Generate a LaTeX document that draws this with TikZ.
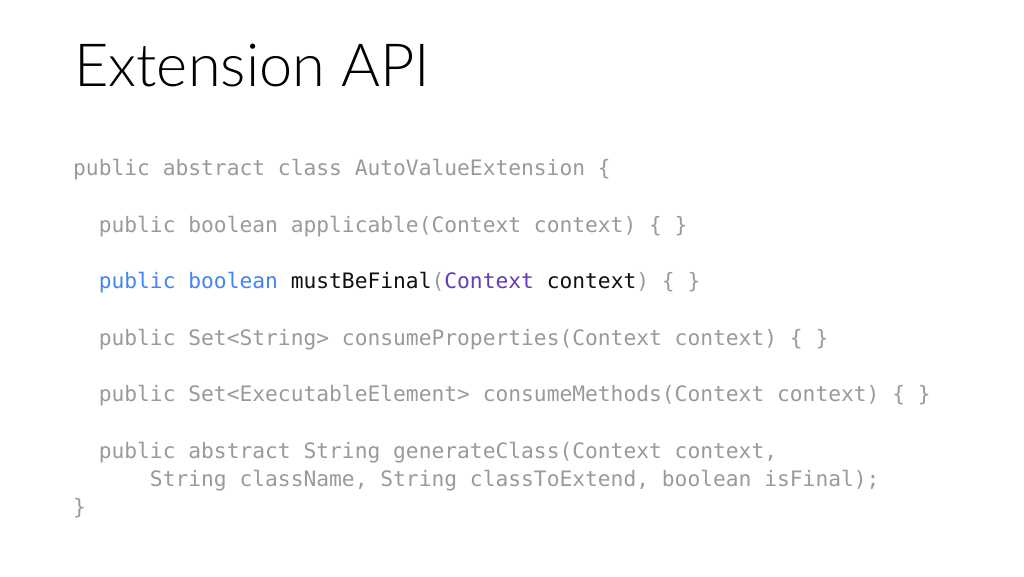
\documentclass[tikz,border=0pt]{standalone}
\usepackage{fontspec}
\setmainfont{Lato}
\newfontfamily\titlefont{Lato Light}
\setmonofont{DejaVu Sans Mono}
\definecolor{codegrey}{HTML}{9A9A9A}
\definecolor{kwblue}{HTML}{4285F4}
\definecolor{typepurple}{HTML}{673AB7}
\definecolor{codeblack}{HTML}{111111}
\begin{document}
\begin{tikzpicture}[x=1pt,y=-1pt,
  codeline/.style={anchor=base west,inner sep=0pt,font=\fontsize{21.26}{28}\ttfamily,text=codegrey},
  titletext/.style={anchor=base west,inner sep=0pt,font=\fontsize{59.5}{70}\titlefont,text=black}]
\useasboundingbox[fill=white] (0,0) rectangle (1024,576);
\node[titletext] (title) at (74,86) {Extension API};
\node[codeline] (l1) at (73,175) {public abstract class AutoValueExtension \{};
\node[codeline] (l2) at (73,232) {\ \ public boolean applicable(Context context) \{ \}};
\node[codeline] (l3) at (73,288) {\ \ \textcolor{kwblue}{public boolean} \textcolor{codeblack}{mustBeFinal}(\textcolor{typepurple}{Context} \textcolor{codeblack}{context}) \{ \}};
\node[codeline] (l4) at (73,345) {\ \ public Set<String> consumeProperties(Context context) \{ \}};
\node[codeline] (l5) at (73,401) {\ \ public Set<ExecutableElement> consumeMethods(Context context) \{ \}};
\node[codeline] (l6) at (73,458) {\ \ public abstract String generateClass(Context context,};
\node[codeline] (l7) at (73,486) {\ \ \ \ \ \ String className, String classToExtend, boolean isFinal);};
\node[codeline] (l8) at (73,514) {\}};
\end{tikzpicture}
\end{document}
